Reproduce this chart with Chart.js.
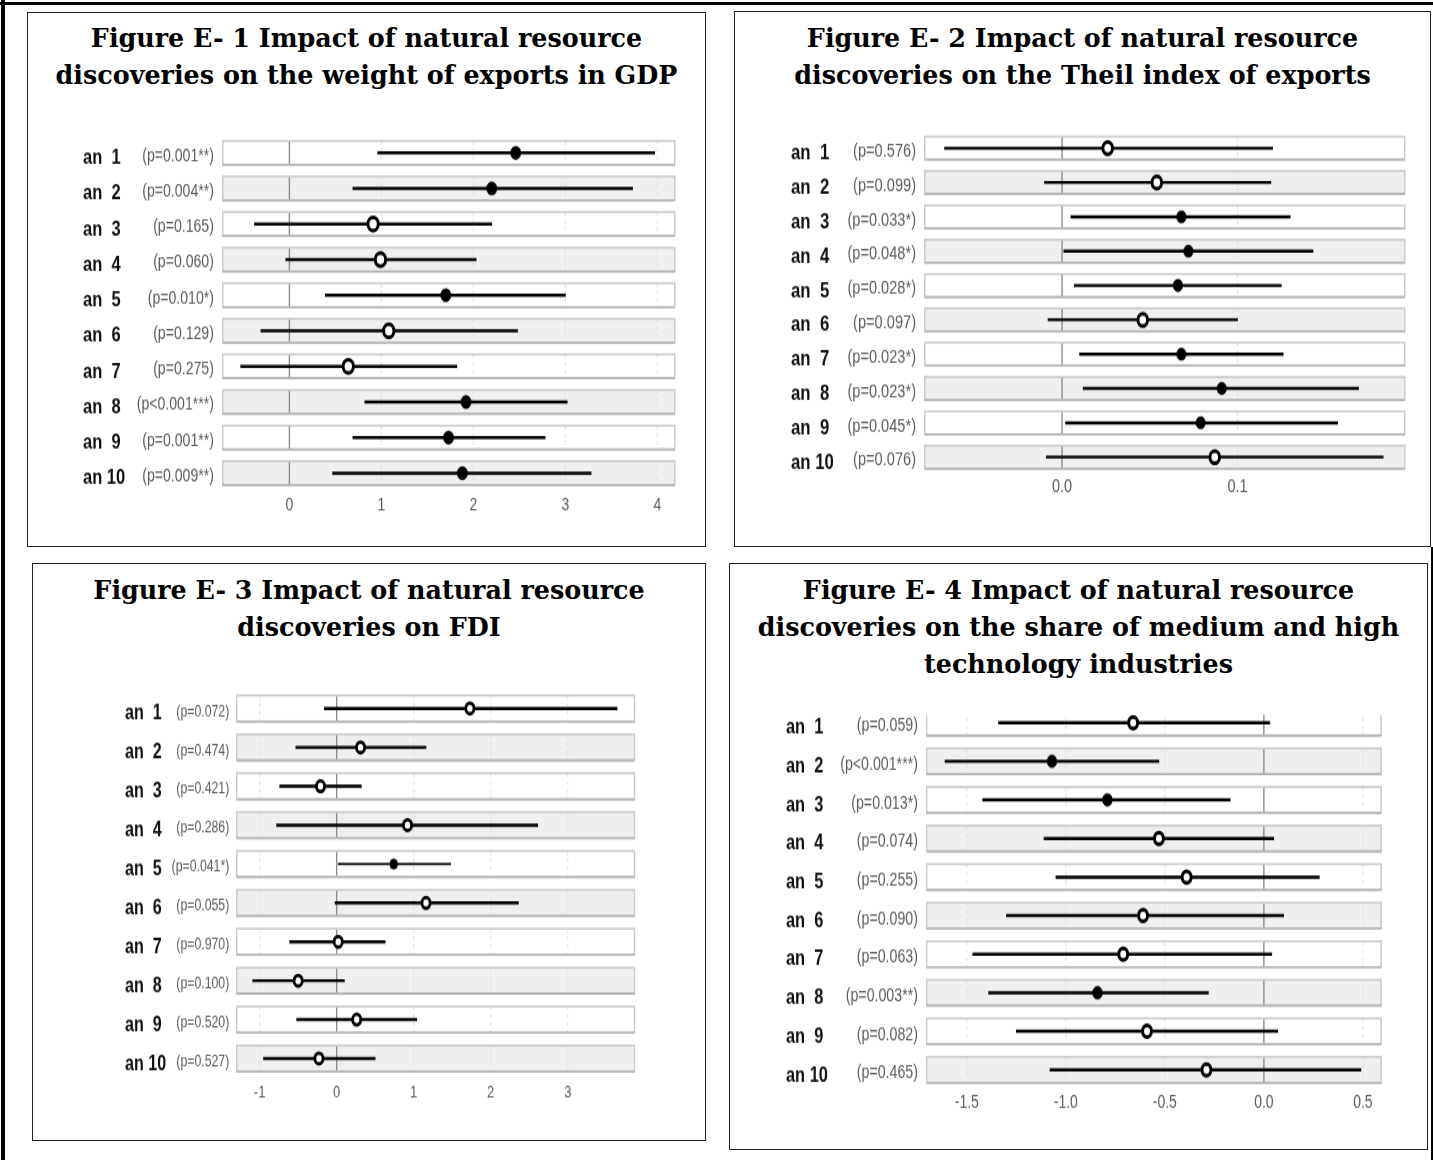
<!DOCTYPE html>
<html>
<head>
<meta charset="utf-8">
<script src="https://cdn.jsdelivr.net/npm/chart.js@4.4.1/dist/chart.umd.min.js"></script>
<style>
  html, body { margin: 0; padding: 0; background: #fff; }
  body { width: 1433px; height: 1160px; position: relative; overflow: hidden; }
  .frame { position: absolute; background: #000; }
  .panel { position: absolute; box-sizing: border-box; border: 1.5px solid #222; background: #fff; }
  .title { position: absolute; text-align: center; white-space: nowrap; color: #000;
           font-family: "DejaVu Serif", "Liberation Serif", serif; font-weight: bold;
           font-size: 25.4px; line-height: 37px; }
  .plot { position: absolute; transform-origin: 0 0; }
  .plot canvas { display: block; }
</style>
</head>
<body>
<div class="frame" style="left:0;top:2px;width:1433px;height:3px"></div>
<div class="frame" style="left:1px;top:0;width:4px;height:1160px"></div>
<div class="frame" style="left:1431px;top:547px;width:3px;height:613px"></div>
<script>
// Row labels shared by the four forest plots
const years = ['an  1', 'an  2', 'an  3', 'an  4', 'an  5', 'an  6', 'an  7', 'an  8', 'an  9', 'an 10'];

// Figure E-1: weight of exports in GDP
const fig1Est  = [2.46, 2.20, 0.91, 0.99, 1.70, 1.08, 0.64, 1.92, 1.73, 1.88];
const fig1Low  = [0.96, 0.69, -0.38, -0.04, 0.39, -0.31, -0.53, 0.82, 0.69, 0.47];
const fig1High = [3.97, 3.73, 2.20, 2.03, 3.00, 2.48, 1.82, 3.02, 2.78, 3.28];
const fig1P    = ['(p=0.001**)', '(p=0.004**)', '(p=0.165)', '(p=0.060)', '(p=0.010*)',
                  '(p=0.129)', '(p=0.275)', '(p<0.001***)', '(p=0.001**)', '(p=0.009**)'];
const fig1Ticks = [0, 1, 2, 3, 4];

// Figure E-2: Theil index of exports
const fig2Est  = [0.026, 0.054, 0.068, 0.072, 0.066, 0.046, 0.068, 0.091, 0.079, 0.087];
const fig2Low  = [-0.067, -0.010, 0.005, 0.001, 0.007, -0.008, 0.010, 0.012, 0.002, -0.009];
const fig2High = [0.120, 0.119, 0.130, 0.143, 0.125, 0.100, 0.126, 0.169, 0.157, 0.183];
const fig2P    = ['(p=0.576)', '(p=0.099)', '(p=0.033*)', '(p=0.048*)', '(p=0.028*)',
                  '(p=0.097)', '(p=0.023*)', '(p=0.023*)', '(p=0.045*)', '(p=0.076)'];
const fig2Ticks = [0, 0.1];

// Figure E-3: FDI
const fig3Est  = [1.73, 0.31, -0.21, 0.92, 0.74, 1.16, 0.02, -0.50, 0.26, -0.23];
const fig3Low  = [-0.16, -0.53, -0.74, -0.78, 0.02, -0.02, -0.61, -1.09, -0.52, -0.95];
const fig3High = [3.64, 1.16, 0.32, 2.61, 1.48, 2.36, 0.63, 0.10, 1.04, 0.50];
const fig3P    = ['(p=0.072)', '(p=0.474)', '(p=0.421)', '(p=0.286)', '(p=0.041*)',
                  '(p=0.055)', '(p=0.970)', '(p=0.100)', '(p=0.520)', '(p=0.527)'];
const fig3Ticks = [-1, 0, 1, 2, 3];

// Figure E-4: share of medium and high technology industries
const fig4Est  = [-0.66, -1.07, -0.79, -0.53, -0.39, -0.61, -0.71, -0.84, -0.59, -0.29];
const fig4Low  = [-1.34, -1.61, -1.42, -1.11, -1.05, -1.30, -1.47, -1.39, -1.25, -1.08];
const fig4High = [0.03, -0.53, -0.17, 0.05, 0.28, 0.10, 0.04, -0.28, 0.07, 0.49];
const fig4P    = ['(p=0.059)', '(p<0.001***)', '(p=0.013*)', '(p=0.074)', '(p=0.255)',
                  '(p=0.090)', '(p=0.063)', '(p=0.003**)', '(p=0.082)', '(p=0.465)'];
const fig4Ticks = [-1.5, -1, -0.5, 0, 0.5];

// Panel boxes, plot areas and styling (page pixels)
const panels = [
  { box: [27, 12, 706, 547], titleY: 20, titleLines: ['Figure E- 1 Impact of natural resource', 'discoveries on the weight of exports in GDP'],
    est: fig1Est, low: fig1Low, high: fig1High, p: fig1P, ticks: fig1Ticks, dec: 0,
    area: { l: 221.3, r: 675.4, t: 135.1, b: 491.0 }, yMin: 0.5, xMin: -0.736, xMax: 4.2,
    labelLeft: 82.6, pRight: 213.5, tickY: 505, s: 1.26, pFont: 14.1, yearFont: 16.5, tickFont: 14,
    openR: 5.2, openW: 3, fillR: 5.2, bar: 1.8, sigBar: 1.8 },
  { box: [734, 11, 1431, 547], titleY: 20, titleLines: ['Figure E- 2 Impact of natural resource', 'discoveries on the Theil index of exports'],
    est: fig2Est, low: fig2Low, high: fig2High, p: fig2P, ticks: fig2Ticks, dec: 1,
    area: { l: 923.3, r: 1405.3, t: 131.0, b: 474.3 }, yMin: 0.5, xMin: -0.0788, xMax: 0.1959,
    labelLeft: 790.5, pRight: 915.5, tickY: 487.5, s: 1.28, pFont: 14.6, yearFont: 16.8, tickFont: 14.5,
    openR: 4.8, openW: 3, fillR: 4.8, bar: 1.6, sigBar: 1.8 },
  { box: [32, 563, 706, 1141], titleY: 572.4, titleLines: ['Figure E- 3 Impact of natural resource', 'discoveries on FDI'],
    est: fig3Est, low: fig3Low, high: fig3High, p: fig3P, ticks: fig3Ticks, dec: 0,
    area: { l: 236, r: 635.9, t: 689.1, b: 1078.0 }, yMin: 0.5, xMin: -1.311, xMax: 3.881,
    labelLeft: 125.3, pRight: 229.6, tickY: 1092.4, s: 1.3, pFont: 12.3, yearFont: 16.1, tickFont: 13,
    openR: 4.1, openW: 2.8, fillR: 3.9, bar: 1.8, sigBar: 0.9 },
  { box: [729, 563, 1428, 1150], titleY: 572.4, titleLines: ['Figure E- 4 Impact of natural resource', 'discoveries on the share of medium and high', 'technology industries'],
    est: fig4Est, low: fig4Low, high: fig4High, p: fig4P, ticks: fig4Ticks, dec: 1,
    area: { l: 925.5, r: 1382, t: 715.1, b: 1089.3 }, yMin: 0.8, xMin: -1.708, xMax: 0.597,
    labelLeft: 785.9, pRight: 917.8, tickY: 1102.8, s: 1.30, pFont: 14.2, yearFont: 16.4, tickFont: 14,
    openR: 4.5, openW: 3, fillR: 4.9, bar: 1.8, sigBar: 1.8 }
];

const LABEL_FONT = '"Liberation Sans", Arial, sans-serif';
const YEAR_FONT = '"Liberation Sans Narrow", "Arial Narrow", "Liberation Sans", sans-serif';
const BAND_HALF = 0.335;

// Alternating row bands, per-band grid lines and the zero reference line
const rowBands = {
  id: 'rowBands',
  beforeDatasetsDraw(chart, args, opts) {
    const { ctx, chartArea: a, scales: { x, y } } = chart;
    ctx.save();
    ctx.beginPath();
    ctx.rect(a.left, a.top, a.right - a.left, a.bottom - a.top);
    ctx.clip();
    for (let i = 1; i <= opts.count; i++) {
      const y1 = y.getPixelForValue(i - BAND_HALF);
      const y2 = y.getPixelForValue(i + BAND_HALF);
      const top = Math.min(y1, y2), bot = Math.max(y1, y2);
      const l = a.left + 1, r = a.right - 1;
      ctx.fillStyle = i % 2 === 0 ? '#efefef' : '#ffffff';
      ctx.fillRect(l, top, r - l, bot - top);
      for (const t of x.ticks) {
        const px = x.getPixelForValue(t.value);
        ctx.beginPath();
        if (t.value === 0) {
          ctx.setLineDash([]);
          ctx.strokeStyle = '#8c8c8c';
          ctx.lineWidth = 1.4;
        } else {
          ctx.setLineDash([3, 3]);
          ctx.strokeStyle = '#dedede';
          ctx.lineWidth = 1;
        }
        ctx.moveTo(px, top);
        ctx.lineTo(px, bot);
        ctx.stroke();
      }
      ctx.setLineDash([]);
      ctx.strokeStyle = '#cbcbcb';
      ctx.lineWidth = 1.6;
      ctx.strokeRect(l, top, r - l, bot - top);
      ctx.beginPath();
      ctx.strokeStyle = '#b3b3b3';
      ctx.lineWidth = 1.6;
      ctx.moveTo(l, bot);
      ctx.lineTo(r, bot);
      ctx.stroke();
    }
    ctx.restore();
  }
};

function rowTicks(scale) {
  scale.ticks = years.map((_, i) => ({ value: i + 1 }));
}

// Axes keep no edge padding of their own so the plot area sits where the layout puts it
function noEdgePadding(scale) {
  scale.paddingTop = 0; scale.paddingBottom = 0;
  scale.paddingLeft = 0; scale.paddingRight = 0;
}

function buildPanel(P) {
  const [bx1, by1, bx2, by2] = P.box;
  const box = document.createElement('div');
  box.className = 'panel';
  Object.assign(box.style, { left: bx1 + 'px', top: by1 + 'px', width: (bx2 - bx1) + 'px', height: (by2 - by1) + 'px' });
  document.body.appendChild(box);

  const title = document.createElement('div');
  title.className = 'title';
  Object.assign(title.style, { left: bx1 + 'px', width: (bx2 - bx1) + 'px', top: P.titleY + 'px' });
  title.innerHTML = P.titleLines.join('<br>');
  document.body.appendChild(title);

  const s = P.s, a = P.area;
  const cL = P.labelLeft - 2, cT = a.t - 14;
  const W = Math.round(a.r + 12 - cL);
  const H = Math.round((P.tickY + 14 - cT) / s);
  const padTop = (a.t - cT) / s;
  const chartBottom = (a.b - cT) / s;
  let xAxisH = H - chartBottom;
  const padRight = W - (a.r - cL);
  const outerW = 44;
  const innerW = a.l - cL - 2 - outerW;
  const tickPad = (P.tickY - cT) / s - chartBottom - 0.6 * P.tickFont;

  const wrap = document.createElement('div');
  wrap.className = 'plot';
  Object.assign(wrap.style, { left: cL + 'px', top: cT + 'px', width: W + 'px', height: H + 'px', transform: `scaleY(${s})` });
  const cv = document.createElement('canvas');
  cv.width = W; cv.height = H;
  cv.style.width = W + 'px'; cv.style.height = H + 'px';
  wrap.appendChild(cv);
  document.body.appendChild(wrap);

  const sig = i => P.p[i].includes('*');
  const ci = (keep) => P.low.map((lo, i) => ({ x: [lo, P.high[i]], y: i + 1 })).filter((_, i) => keep(i));

  const yBase = {
    type: 'linear', position: 'left', reverse: true, offset: false,
    min: P.yMin, max: years.length + 0.5,
    afterBuildTicks: rowTicks,
    grid: { display: false, drawTicks: false, offset: false }, border: { display: false }
  };

  const chart = new Chart(cv, {
    type: 'bar',
    data: {
      datasets: [
        {
          type: 'scatter',
          data: P.est.map((v, i) => ({ x: v, y: i + 1 })),
          pointStyle: 'circle',
          pointRadius: c => sig(c.dataIndex) ? P.fillR : P.openR,
          pointBackgroundColor: c => sig(c.dataIndex) ? '#000' : '#fff',
          pointBorderColor: '#000',
          pointBorderWidth: c => sig(c.dataIndex) ? 0.5 : P.openW,
          order: 0
        },
        { type: 'bar', indexAxis: 'y', data: ci(i => !sig(i)), backgroundColor: '#000', barThickness: P.bar, grouped: false, order: 1 },
        { type: 'bar', indexAxis: 'y', data: ci(sig), backgroundColor: '#000', barThickness: P.sigBar, grouped: false, order: 1 }
      ]
    },
    options: {
      indexAxis: 'y',
      responsive: false,
      devicePixelRatio: 1,
      animation: false,
      events: [],
      layout: { padding: { left: 2, top: padTop, right: padRight, bottom: 0 } },
      plugins: {
        legend: { display: false },
        tooltip: { enabled: false },
        rowBands: { count: years.length }
      },
      scales: {
        x: {
          type: 'linear', position: 'bottom', offset: false, min: P.xMin, max: P.xMax,
          afterBuildTicks: sc => { sc.ticks = P.ticks.map(v => ({ value: v })); },
          afterFit: sc => { noEdgePadding(sc); sc.height = xAxisH; },
          ticks: {
            callback: v => v.toFixed(P.dec),
            color: '#5a5a5a', padding: tickPad, maxRotation: 0, autoSkip: false,
            font: { family: LABEL_FONT, size: P.tickFont }
          },
          grid: { display: false, drawTicks: false }, border: { display: false }
        },
        y: Object.assign({}, yBase, {
          weight: 0,
          afterFit: sc => { noEdgePadding(sc); sc.width = innerW; },
          ticks: {
            autoSkip: false, crossAlign: 'near', padding: a.l - P.pRight,
            labelOffset: 3.3 / s,
            callback: v => P.p[v - 1],
            color: '#5c5c5c', font: { family: LABEL_FONT, size: P.pFont }
          }
        }),
        y2: Object.assign({}, yBase, {
          weight: 1,
          afterFit: sc => { noEdgePadding(sc); sc.width = outerW; },
          ticks: {
            autoSkip: false, crossAlign: 'far', padding: 0,
            labelOffset: 5.5 / s,
            callback: v => years[v - 1],
            color: '#111', font: { family: YEAR_FONT, size: P.yearFont, weight: 'bold' }
          }
        })
      }
    },
    plugins: [rowBands]
  });

  // Settle the plot area on the intended top and bottom edges
  for (let k = 0; k < 3; k++) {
    const ca = chart.chartArea;
    const dTop = padTop - ca.top;
    const dBottom = ca.bottom - chartBottom;
    if (Math.abs(dTop) < 0.2 && Math.abs(dBottom) < 0.2) break;
    chart.options.layout.padding.top += dTop;
    xAxisH += dBottom;
    chart.update();
  }
}

panels.forEach(buildPanel);
</script>
</body>
</html>
